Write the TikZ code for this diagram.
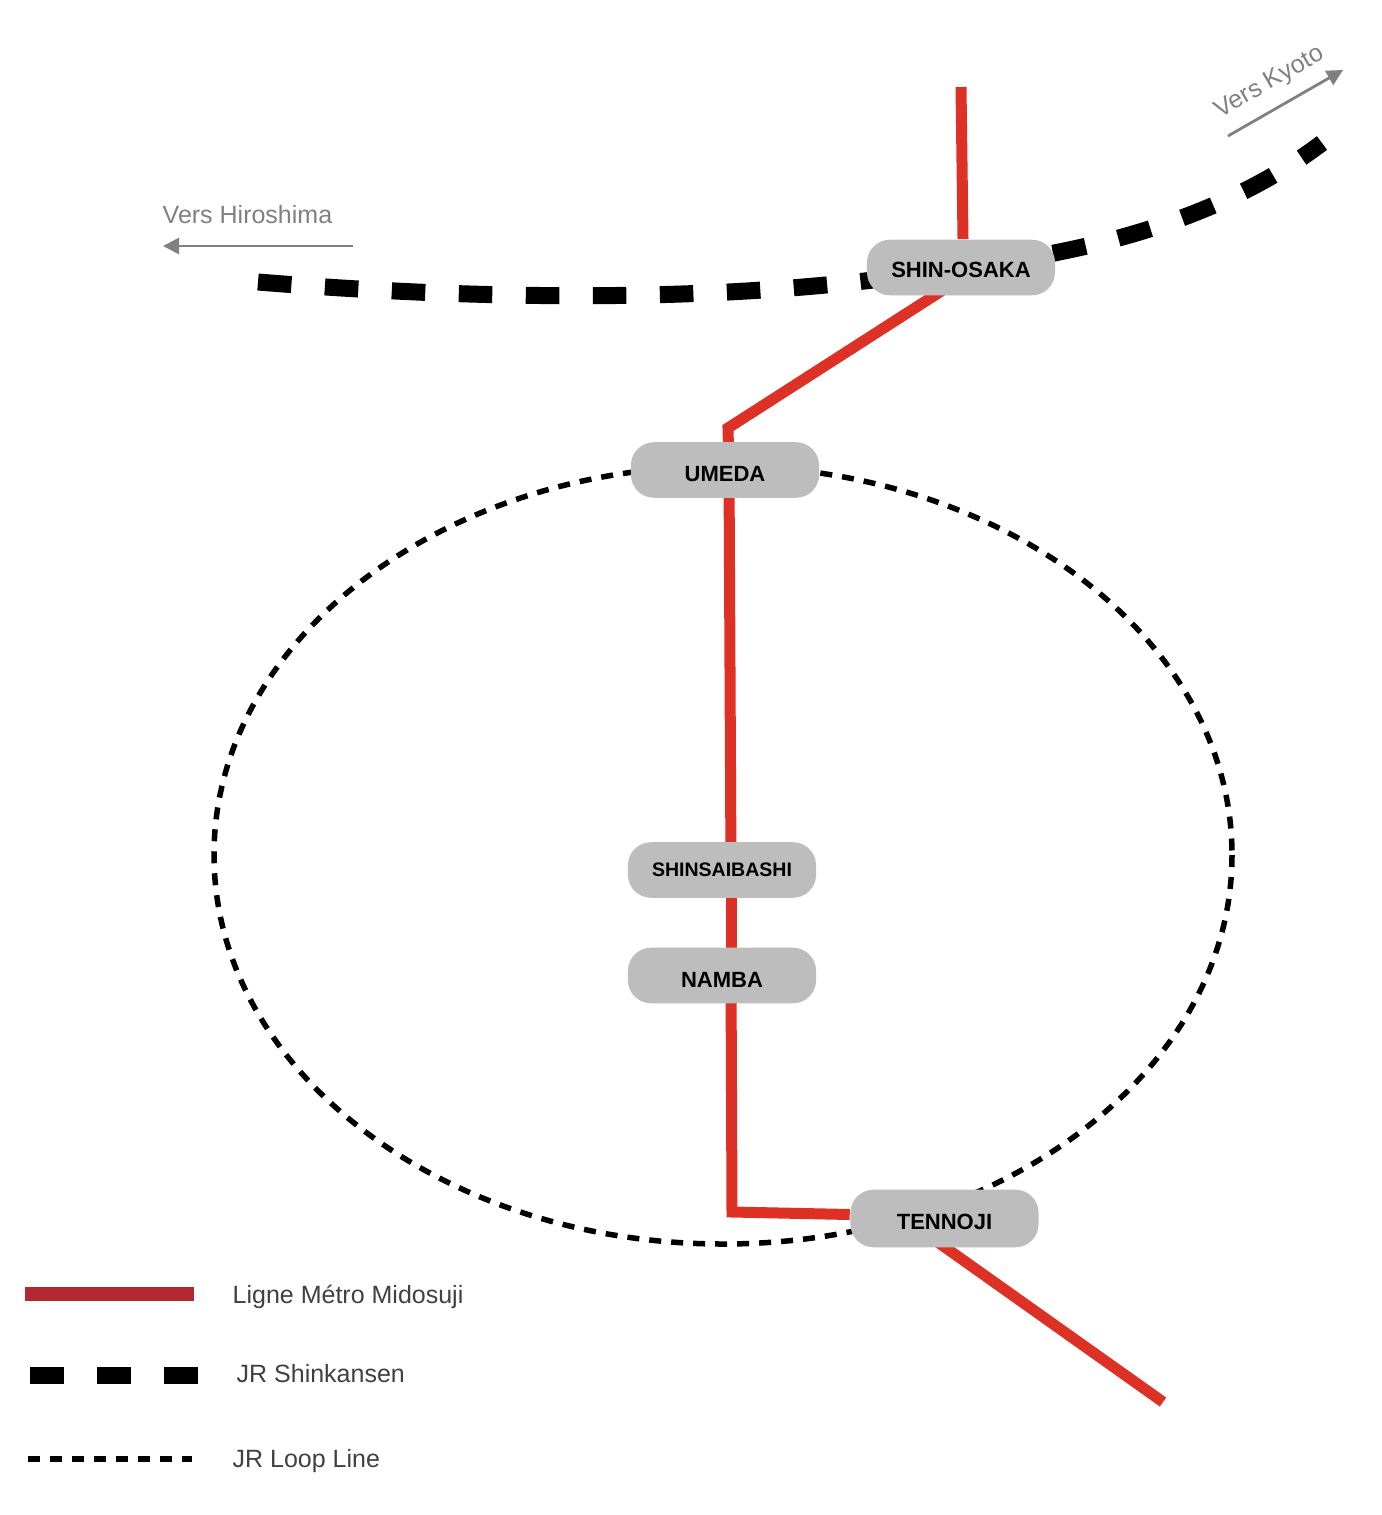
\documentclass[tikz,border=0pt]{standalone}
\usepackage{fontspec}
\setmainfont{Liberation Sans}
\usetikzlibrary{arrows.meta,backgrounds}
\definecolor{metrored}{HTML}{DE3126}
\definecolor{legendred}{HTML}{B22831}
\definecolor{stationgray}{HTML}{BDBDBD}
\definecolor{legendtext}{HTML}{404040}
\tikzset{
    station/.style={fill=stationgray, rounded corners=0.23cm, minimum width=1.88cm, minimum height=0.555cm, inner sep=0pt, text height=0.22cm, text depth=0pt, font=\fontsize{6.26pt}{7pt}\selectfont\bfseries, text=black},
    metroline/.style={metrored, line width=0.11cm},
    shinkansen/.style={black, line width=0.17cm, dash pattern=on 0.335cm off 0.335cm},
    loopline/.style={black, line width=0.055cm, dash pattern=on 0.12cm off 0.10cm},
    towards/.style={gray, line width=0.028cm, -{Triangle[length=0.16cm,width=0.16cm]}},
    graylabel/.style={gray, font=\fontsize{7.11pt}{8pt}\selectfont, inner sep=0pt},
    legendlabel/.style={legendtext, anchor=west, font=\fontsize{7.11pt}{8pt}\selectfont, inner sep=0pt}
}
\begin{document}
\begin{tikzpicture}[x=0.01cm, y=-0.01cm]
    \useasboundingbox (0,0) rectangle (1381,1515);
    % Free ends and bends of the lines
    \coordinate (metroNorth) at (961,87); \coordinate (metroSouth) at (1163,1402);
    \coordinate (bendUmeda) at (728,428); \coordinate (bendTennoji) at (732,1212);
    \coordinate (hiroEnd) at (258,282); \coordinate (kyotoEnd) at (1322,143);
    \coordinate (hiroTail) at (353,246); \coordinate (hiroTip) at (163,246);
    \coordinate (kyotoTail) at (1228,136); \coordinate (kyotoTip) at (1343,70);

    % Stations
    \node[station, text height=0.2cm] (shinosaka) at (961,267.5) {SHIN-OSAKA};
    \node[station] (umeda) at (725,470) {UMEDA};
    \node[station, text height=0.12cm, font=\fontsize{5.55pt}{7pt}\selectfont\bfseries] (shinsaibashi) at (722,870) {SHINSAIBASHI};
    \node[station, text height=0.24cm] (namba) at (722,975.5) {NAMBA};
    \node[station, minimum height=0.575cm] (tennoji) at (944.5,1218.5) {TENNOJI};

    \begin{scope}[on background layer]
        % JR Loop Line
        \draw[loopline] (723,855) ellipse (509 and 389);
        % Shinkansen
        \draw[shinkansen] (hiroEnd) .. controls (480,300) and (740,305) .. (shinosaka.center);
        \draw[shinkansen, dash phase=0.41cm] (shinosaka.center) .. controls (1090,252) and (1220,220) .. (kyotoEnd);
        % Ligne Midosuji
        \draw[metroline] (metroNorth) -- ([xshift=0.02cm]shinosaka.north);
        \draw[metroline] ([xshift=0.17cm]shinosaka.center) -- (bendUmeda) -- ([xshift=0.04cm]umeda.center);
        \draw[metroline] ([xshift=0.04cm]umeda.center) -- ([xshift=0.09cm]shinsaibashi.center);
        \draw[metroline] ([xshift=0.09cm]shinsaibashi.center) -- ([xshift=0.09cm]namba.center);
        \draw[metroline] ([xshift=0.09cm]namba.center) -- (bendTennoji) -- ([yshift=0.04cm]tennoji.west);
        \draw[metroline] ([xshift=-0.4cm]tennoji.center) -- (metroSouth);
    \end{scope}

    % Directions
    \draw[towards] (hiroTail) -- (hiroTip);
    \draw[towards] (kyotoTail) -- (kyotoTip);
    \node[graylabel, anchor=west] (hirolabel) at (162,215) {Vers Hiroshima};
    \node[graylabel, rotate=30] (kyotolabel) at (1270,83) {Vers Kyoto};

    % Legend
    \coordinate (legMetroA) at (25,1294); \coordinate (legMetroB) at (194,1294);
    \coordinate (legShinA) at (30,1375); \coordinate (legShinB) at (198,1375);
    \coordinate (legLoopA) at (28,1459); \coordinate (legLoopB) at (192,1459);
    \draw[legendred, line width=0.14cm] (legMetroA) -- (legMetroB);
    \draw[shinkansen] (legShinA) -- (legShinB);
    \draw[loopline] (legLoopA) -- (legLoopB);
    \node[legendlabel] (legMetro) at (232,1297) {Ligne Métro Midosuji};
    \node[legendlabel] (legShin) at (236,1374) {JR Shinkansen};
    \node[legendlabel] (legLoop) at (232,1461) {JR Loop Line};
\end{tikzpicture}
\end{document}
